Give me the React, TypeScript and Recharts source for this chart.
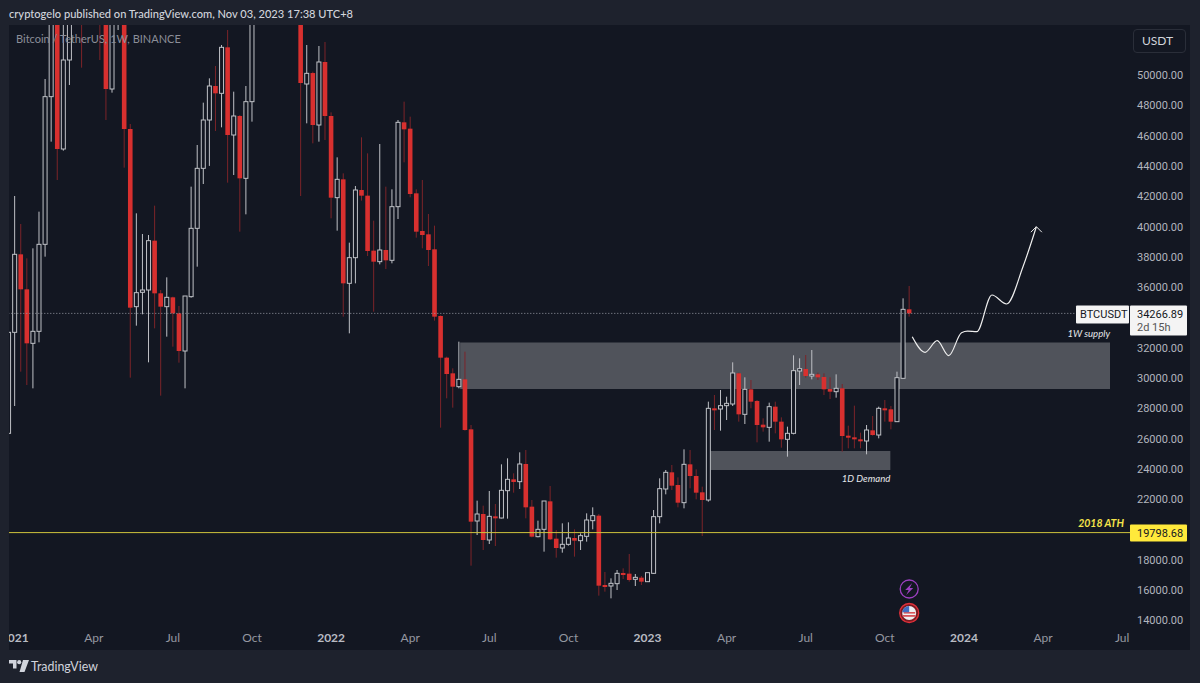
import React from 'react';
import { ComposedChart, Bar, Line, XAxis, YAxis, ReferenceArea, ReferenceLine, ReferenceDot } from 'recharts';

const FONT = 'Lato, sans-serif';
const NUM_FONT = 'Roboto, sans-serif';
const PANEL = '#1e222d';
const PLOT = '#131722';
const UP = '#bfc1c6';
const DOWN = '#d8302f';

const firstWeek = -1;
const lastWeek = 183;

const opens = [
  26350, 33016, 38164, 35854, 32290, 33082, 38824, 48570, 57000, 45116,
  50990, 57000, 60000, 55800, 57500, 59000, 56000, 49076, 55500, 58000,
  46436, 34710, 35656, 35810, 39066, 35590, 34710, 35326, 34270, 31784,
  35370, 39880, 43840, 47030, 49274, 48790, 51826, 46040, 47294, 43180,
  48240, 54800, 57500, 61500, 60800, 63200, 65500, 64900, 58600, 49406,
  50130, 46700, 50858, 47294, 41904, 43114, 36250, 37944, 42410, 42036,
  38406, 37680, 38450, 37768, 41310, 46876, 46458, 42190, 39704, 39484,
  38494, 34094, 31344, 30310, 29430, 29914, 26614, 20564, 21026, 19310,
  20872, 20762, 22566, 23314, 23160, 24326, 21510, 19530, 20014, 21862,
  19398, 18782, 19024, 19442, 19266, 19552, 20586, 20916, 16340, 16274,
  16428, 17132, 17088, 16714, 16824, 16560, 17110, 20850, 22676, 23776,
  22940, 21774, 24304, 23534, 22456, 21950, 28000, 27956, 28176, 28286,
  30310, 27604, 29254, 28484, 26922, 26746, 28110, 27120, 25954, 26350,
  30464, 30596, 30134, 30244, 30068, 29276, 29100, 29320, 26196, 26086,
  25954, 25844, 26548, 26240, 28000, 27934, 27120, 29980, 34534,
];

const highs = [
  33016, 42014, 40166, 37900, 38560, 40980, 49736, 58000, 58300, 56000,
  61000, 60500, 61500, 60000, 61000, 60000, 57000, 56500, 60000, 59000,
  46766, 40870, 39506, 39440, 41376, 35810, 36646, 35370, 34754, 35414,
  42630, 45380, 48174, 49780, 50594, 51980, 52970, 48900, 47360, 49274,
  55500, 58000, 63000, 67000, 64000, 69000, 66300, 66000, 60000, 51980,
  50220, 51914, 52178, 47536, 44566, 43510, 38934, 42674, 45886, 44830,
  40386, 45446, 42630, 42454, 47030, 48240, 47250, 42454, 43070, 40826,
  40056, 34138, 31410, 30640, 32400, 31740, 26900, 21906, 21576, 22544,
  21686, 24304, 24700, 23710, 25096, 25250, 21950, 20586, 21884, 22874,
  19970, 20410, 20476, 20014, 19750, 21070, 21466, 21026, 17198, 16780,
  17330, 17440, 18386, 17066, 16934, 17154, 21290, 23380, 23930, 24260,
  23446, 25294, 25250, 23974, 22830, 28440, 28880, 29210, 28770, 31036,
  30354, 30046, 29870, 28550, 27340, 28374, 28440, 27406, 26790, 31498,
  31300, 31520, 31850, 30354, 30310, 30046, 30244, 29606, 26856, 28176,
  26394, 26900, 27494, 28110, 28550, 28154, 30420, 35260, 36074,
];

const lows = [
  26350, 28154, 30420, 29540, 29320, 32356, 38010, 45600, 43070, 45006,
  49340, 55000, 50484, 53500, 53500, 50990, 47030, 48834, 52970, 43884,
  30024, 33456, 34204, 31036, 33280, 28836, 32730, 32070, 31014, 29320,
  35304, 37350, 42806, 44000, 46304, 46546, 42894, 43400, 39660, 40804,
  46920, 53700, 57000, 59500, 59800, 62800, 62300, 55600, 42014, 46810,
  45490, 45600, 45710, 40540, 39726, 34050, 32950, 36250, 41706, 38054,
  34380, 37504, 37196, 37570, 40496, 44236, 41926, 39264, 38560, 37394,
  33786, 26724, 28660, 28044, 29320, 26526, 17616, 19640, 18650, 19046,
  18914, 20740, 20718, 22434, 22676, 20740, 19486, 19486, 18540, 19310,
  18144, 18474, 18936, 18210, 18650, 19200, 20014, 15636, 15900, 15460,
  16010, 16736, 16560, 16274, 16340, 16560, 17066, 20410, 22324, 22610,
  21466, 21400, 22720, 21994, 19574, 21840, 26570, 26526, 27230, 28154,
  27120, 26966, 28000, 25756, 26460, 25800, 26350, 25404, 24810, 26284,
  29540, 30024, 29914, 29870, 28880, 28616, 28704, 25140, 25360, 25360,
  25360, 24964, 26196, 26020, 27120, 26614, 27120, 29980, 34050,
];

const closes = [
  33016, 38164, 35854, 32290, 33082, 38824, 48570, 57000, 45116, 50990,
  57500, 58000, 55800, 57500, 58000, 56000, 49076, 55500, 59000, 46436,
  34644, 35634, 35810, 39066, 35590, 34710, 35326, 34270, 31784, 35414,
  39880, 43840, 47030, 49274, 48790, 51826, 46040, 47294, 43180, 48240,
  54800, 57500, 61500, 60800, 63200, 65500, 64900, 58600, 49472, 50110,
  46700, 50858, 47294, 41904, 43114, 36250, 37944, 42410, 42036, 38384,
  37680, 38450, 37768, 41310, 46876, 46414, 42146, 39660, 39440, 38450,
  34050, 31344, 30266, 29430, 29914, 26570, 20520, 21026, 19310, 20872,
  20784, 22588, 23314, 23138, 24326, 21466, 19530, 20014, 21884, 19354,
  18782, 19024, 19442, 19266, 19596, 20630, 20916, 16296, 16274, 16450,
  17110, 17044, 16670, 16846, 16560, 17154, 20850, 22698, 23776, 22896,
  21774, 24304, 23534, 22434, 21950, 28000, 27956, 28176, 28330, 30332,
  27604, 29254, 28440, 26900, 26746, 28110, 27120, 25954, 26350, 30486,
  30618, 30134, 30244, 30046, 29254, 29100, 29320, 26174, 26086, 25954,
  25844, 26570, 26240, 28000, 27934, 27120, 30024, 34534, 34266.89,
];

// the hand drawn projection, weeks are fractional because it is a free drawing
const projectionWeeks = [147.5, 149.6, 151.6, 153.5, 155.6, 156.6, 158.1, 160.6, 163, 165.7, 167.9];
const projection = [32728, 31698, 32464, 31474, 32992, 33090, 33058, 35480, 34886, 37348, 39988];

const priceTicks = [
  14000, 16000, 18000, 22000, 24000, 26000, 28000, 30000,
  32000, 36000, 38000, 40000, 42000, 44000, 46000, 48000, 50000,
];

const timeWeeks = [0, 13, 26, 39, 52, 65, 78, 91, 104, 117, 130, 143, 156, 169, 182];
const timeLabels = ['2021', 'Apr', 'Jul', 'Oct', '2022', 'Apr', 'Jul', 'Oct', '2023', 'Apr', 'Jul', 'Oct', '2024', 'Apr', 'Jul'];

const lastPrice = 34266.89;
const athPrice = 19798.68;

const rows = Array.from({ length: lastWeek - firstWeek + 1 }, (_, i) => ({
  week: firstWeek + i,
  range: i < opens.length ? [lows[i], highs[i]] : null,
  open: opens[i],
  high: highs[i],
  low: lows[i],
  close: closes[i],
}));

const pathRows = projectionWeeks.map((week, i) => ({ week, path: projection[i] }));

function Candle(props: any) {
  const { x, y, width, height, payload } = props;
  if (!payload || payload.high == null) return null;
  const top = Math.min(y, y + height);
  const h = Math.abs(height);
  const cx = x + width / 2;
  const perUnit = payload.high === payload.low ? 0 : h / (payload.high - payload.low);
  const up = payload.close >= payload.open;
  const bodyTop = top + (payload.high - Math.max(payload.open, payload.close)) * perUnit;
  const bodyBottom = top + (payload.high - Math.min(payload.open, payload.close)) * perUnit;
  if (up) {
    return (
      <g>
        <line x1={cx} x2={cx} y1={top} y2={top + h} stroke={UP} strokeWidth={1} />
        <rect x={cx - 2} y={bodyTop} width={4} height={Math.max(bodyBottom - bodyTop, 1.5)} fill={PLOT} stroke={UP} strokeWidth={1} />
      </g>
    );
  }
  return (
    <g>
      <line x1={cx} x2={cx} y1={top} y2={top + h} stroke="#7c2429" strokeWidth={1} />
      <rect x={cx - 2.3} y={bodyTop} width={4.6} height={Math.max(bodyBottom - bodyTop, 2)} fill={DOWN} />
    </g>
  );
}

function TimeTick(props: any) {
  const { x, y, payload, index } = props;
  const text = timeLabels[index] ?? timeLabels[timeWeeks.indexOf(payload.value)];
  const isYear = /^\d/.test(text);
  return (
    <text x={x} y={y + 9} textAnchor="middle" fontFamily={FONT} fontSize={12} fontWeight={isYear ? 700 : 400} fill={isYear ? '#b8bbc3' : '#9598a1'}>
      {text}
    </text>
  );
}

function PriceTick(props: any) {
  const { y, payload } = props;
  return (
    <text x={1137} y={y + 4} fontFamily={NUM_FONT} fontSize={11} fill="#b2b5be">
      {payload.value.toFixed(2)}
    </text>
  );
}

function LastPriceTag(props: any) {
  const y = props.viewBox.y;
  return (
    <g fontFamily={NUM_FONT} fontSize={11}>
      <rect x={1076} y={y - 8} width={53} height={18} rx={1} fill="#f4f4f4" />
      <text x={1080} y={y + 5} fill="#131722">BTCUSDT</text>
      <rect x={1130} y={y - 8} width={57} height={30} rx={1} fill="#f4f4f4" />
      <text x={1137} y={y + 5} fill="#131722">{lastPrice}</text>
      <text x={1137} y={y + 18} fill="#555">2d 15h</text>
    </g>
  );
}

function AthTag(props: any) {
  const y = props.viewBox.y;
  return (
    <g fontFamily={NUM_FONT} fontSize={11}>
      <text x={1124} y={y - 6} textAnchor="end" fill="#f5e44a" fontFamily={FONT} fontStyle="italic" fontWeight={700} fontSize={10.5}>2018 ATH</text>
      <rect x={1130} y={y - 8} width={57} height={17} rx={1} fill="#ffe93b" />
      <text x={1137} y={y + 4} fill="#131722">{athPrice}</text>
    </g>
  );
}

function ZoneLabel(props: any) {
  const { viewBox, text, below } = props;
  const ty = below ? viewBox.y + viewBox.height + 12 : viewBox.y - 6;
  return (
    <text x={viewBox.x + viewBox.width} y={ty} textAnchor="end" fontFamily={FONT} fontStyle="italic" fontSize={9.6} fill="#e6e7ea">
      {text}
    </text>
  );
}

function BoltIcon(props: any) {
  const { cx, cy } = props;
  return (
    <g>
      <circle cx={cx} cy={cy} r={9} fill={PLOT} stroke="#9c3fc0" strokeWidth={1.3} />
      <path d={`M${cx + 3} ${cy - 6} L${cx - 4} ${cy + 1} L${cx - 0.5} ${cy + 1} L${cx - 3} ${cy + 6} L${cx + 4} ${cy - 1} L${cx + 0.5} ${cy - 1} Z`} fill="#9c3fc0" />
    </g>
  );
}

function FlagIcon(props: any) {
  const { cx, cy } = props;
  return (
    <g>
      <circle cx={cx} cy={cy} r={9.5} fill="#7a1b22" stroke="#e0303a" strokeWidth={1.3} />
      <circle cx={cx} cy={cy} r={7} fill="#eef0f3" />
      <rect x={cx - 5.5} y={cy - 1} width={11.5} height={1.6} fill="#d8535a" />
      <rect x={cx - 6.5} y={cy + 2} width={13} height={1.8} fill="#d8535a" />
      <path d={`M${cx - 7} ${cy - 0.8} A7 7 0 0 1 ${cx} ${cy - 7} L${cx} ${cy - 0.8} Z`} fill="#3f6fc4" />
    </g>
  );
}

function ArrowEnd(props: any) {
  const { cx, cy, index } = props;
  if (index !== pathRows.length - 1) return <g key={index} />;
  return <path key={index} d={`M${cx - 5.5} ${cy + 5.5} L${cx} ${cy} L${cx + 5.5} ${cy + 5.5}`} fill="none" stroke="#eeeeee" strokeWidth={1} />;
}

const overlay = (style: React.CSSProperties): React.CSSProperties => ({ position: 'absolute', ...style });

export default function App() {
  return (
    <div style={overlay({ left: 0, top: 0, width: 1200, height: 683, background: PANEL, overflow: 'hidden', fontFamily: FONT })}>
      <div style={overlay({ left: 9, top: 25, width: 1181, height: 625, background: PLOT })} />
      <div style={overlay({ left: 0, top: 0 })}>
        <ComposedChart width={1200} height={683} data={rows} margin={{ top: 25, right: 8.7, bottom: 33.5, left: 5.57 }} barCategoryGap={0}>
          <XAxis dataKey="week" ticks={timeWeeks} interval={0} tick={<TimeTick />} tickLine={false} axisLine={false} height={25} />
          <XAxis xAxisId="free" dataKey="week" type="number" domain={[firstWeek - 0.5, lastWeek + 0.5]} allowDataOverflow hide />
          <YAxis orientation="right" domain={[13733, 53300]} allowDataOverflow ticks={priceTicks} interval={0} tick={<PriceTick />} tickLine={false} axisLine={false} width={60} />
          <ReferenceArea xAxisId="free" x1={73.2} x2={180} y1={29276} y2={32345} fill="#ffffff" fillOpacity={0.26} stroke="none" label={<ZoneLabel text="1W supply" />} />
          <ReferenceArea xAxisId="free" x1={114.1} x2={143.9} y1={23930} y2={25184} fill="#ffffff" fillOpacity={0.26} stroke="none" label={<ZoneLabel text="1D Demand" below />} />
          <ReferenceLine y={lastPrice} stroke="#9598a1" strokeWidth={1} strokeDasharray="1 2" label={<LastPriceTag />} />
          <ReferenceLine y={athPrice} stroke="#cfc33c" strokeWidth={1} label={<AthTag />} />
          <Bar dataKey="range" shape={<Candle />} isAnimationActive={false} />
          <Line xAxisId="free" data={pathRows} dataKey="path" type="monotone" stroke="#eeeeee" strokeWidth={1.2} dot={<ArrowEnd />} activeDot={false} isAnimationActive={false} />
          <ReferenceDot x={147} y={16076} shape={<BoltIcon />} />
          <ReferenceDot x={147} y={14492} shape={<FlagIcon />} />
        </ComposedChart>
      </div>
      <div style={overlay({ left: 0, top: 0, width: 9, height: 683, background: PANEL })} />
      <div style={overlay({ left: 1190, top: 0, width: 10, height: 683, background: PANEL })} />
      <div style={overlay({ left: 0, top: 0, width: 1200, height: 25, background: PANEL })} />
      <div style={overlay({ left: 0, top: 650, width: 1200, height: 33, background: PANEL })} />
      <div style={overlay({ left: 9, top: 7, fontSize: 11.1, fontWeight: 500, color: '#d1d4dc', whiteSpace: 'nowrap' })}>
        cryptogelo published on TradingView.com, Nov 03, 2023 17:38 UTC+8
      </div>
      <div style={overlay({ left: 16, top: 32, fontSize: 11, color: '#8b8e98', whiteSpace: 'nowrap' })}>
        Bitcoin / TetherUS, 1W, BINANCE
      </div>
      <div style={overlay({ left: 1133, top: 29, width: 51, height: 22, border: '1px solid #2a2e39', borderRadius: 4, background: PLOT, color: '#d1d4dc', fontSize: 12, lineHeight: '22px', textIndent: 8 })}>
        USDT
      </div>
      <svg style={overlay({ left: 9, top: 660 })} width={20} height={13}>
        <path d="M0 0H7.5V8.5H4V3.5H0Z M14 0H20L15.5 12H10.5Z" fill="#d1d4dc" />
        <circle cx={10.2} cy={2.2} r={2.1} fill="#d1d4dc" />
      </svg>
      <div style={overlay({ left: 31, top: 659, fontSize: 12.4, color: '#d1d4dc', whiteSpace: 'nowrap' })}>TradingView</div>
    </div>
  );
}
